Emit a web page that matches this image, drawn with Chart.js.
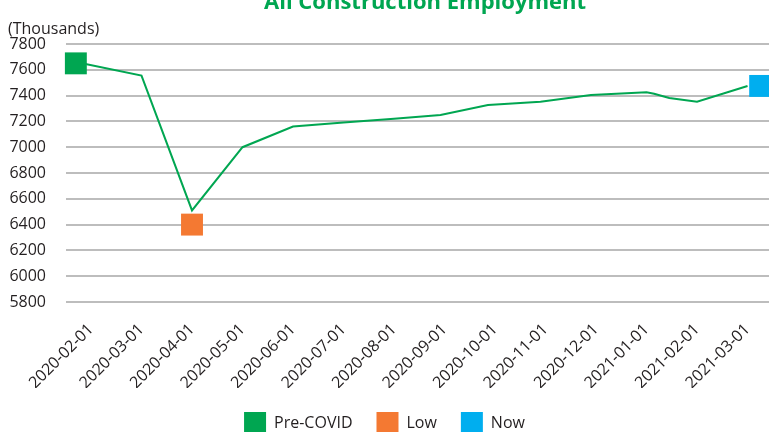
<!DOCTYPE html>
<html>
<head>
<meta charset="utf-8">
<script src="https://cdn.jsdelivr.net/npm/chart.js@4.4.1/dist/chart.umd.min.js"></script>
<style>
  html, body { margin: 0; padding: 0; background: #ffffff; }
  #wrap { position: relative; width: 769px; height: 432px; }
</style>
</head>
<body>
<div id="wrap"><canvas id="c"></canvas></div>
<script>
// ---- Data ----
const tickLabels = ['2020-02-01','2020-03-01','2020-04-01','2020-05-01','2020-06-01','2020-07-01',
  '2020-08-01','2020-09-01','2020-10-01','2020-11-01','2020-12-01','2021-01-01','2021-02-01','2021-03-01'];
// x positions are in month-index units (0 = 2020-02-01)
const lineX = [-0.3, 1, 2, 3, 4, 5, 6, 6.92, 7.86, 8.9, 9.9, 11, 11.15, 11.45, 12, 13];
const employment = [7660, 7555, 6510, 7000, 7160, 7192, 7220, 7250, 7327, 7352, 7405, 7425, 7415, 7382, 7352, 7474];
const markerNames = ['Pre-COVID', 'Low', 'Now'];
const markerX = [-0.3, 2, 13.25];
const markerY = [7650, 6400, 7475];
const yTicks = [5800, 6000, 6200, 6400, 6600, 6800, 7000, 7200, 7400, 7600, 7800];
const chartTitle = 'All Construction Employment';
const unitLabel = '(Thousands)';

// ---- Styles ----
const GREEN = '#00a651';
const markerColors = ['#00a651', '#f47932', '#00aeef'];
const TEXT = '#231f20';

Chart.defaults.font.family = "'Open Sans', sans-serif";
Chart.defaults.font.size = 16;
Chart.defaults.color = TEXT;

const datasets = [{
  type: 'line',
  label: 'Employment',
  data: lineX.map((x, i) => ({ x: x, y: employment[i] })),
  borderColor: GREEN,
  borderWidth: 2,
  pointRadius: 0,
  tension: 0,
  fill: false,
  order: 10
}];
markerNames.forEach((name, i) => {
  datasets.push({
    type: 'scatter',
    label: name,
    data: [{ x: markerX[i], y: markerY[i] }],
    backgroundColor: markerColors[i],
    borderColor: markerColors[i],
    borderWidth: 0,
    pointStyle: 'rect',
    pointRadius: 15.5,
    pointHoverRadius: 15.5,
    clip: false,
    order: 0
  });
});

const textPlugin = {
  id: 'texts',
  afterDraw(chart) {
    const ctx = chart.ctx;
    ctx.save();
    ctx.fillStyle = GREEN;
    ctx.font = "bold 22px 'Open Sans', sans-serif";
    ctx.textAlign = 'center';
    ctx.textBaseline = 'alphabetic';
    ctx.fillText(chartTitle, 425, 8.5);
    ctx.fillStyle = TEXT;
    ctx.font = "16px 'Open Sans', sans-serif";
    ctx.textAlign = 'left';
    ctx.fillText(unitLabel, 8, 34);
    ctx.restore();
  }
};

new Chart(document.getElementById('c'), {
  data: { datasets: datasets },
  options: {
    responsive: true,
    maintainAspectRatio: false,
    animation: false,
    layout: { autoPadding: false, padding: { top: 44, left: 0, right: 0, bottom: -12 } },
    plugins: {
      title: { display: false },
      tooltip: { enabled: false },
      legend: {
        position: 'bottom',
        labels: {
          boxWidth: 22,
          boxHeight: 22,
          padding: 24,
          color: TEXT,
          font: { size: 16 },
          filter: (item) => item.datasetIndex > 0
        }
      }
    },
    scales: {
      x: {
        type: 'linear',
        min: -0.495,
        max: 13.425,
        grid: { display: false, drawTicks: false },
        border: { display: false },
        afterBuildTicks: (scale) => { scale.ticks = tickLabels.map((_, i) => ({ value: i })); },
        afterFit: (scale) => { scale.height = 86; scale.paddingRight = 0; scale.paddingLeft = 0; },
        ticks: {
          autoSkip: false,
          minRotation: 45,
          maxRotation: 45,
          padding: 18,
          color: TEXT,
          callback: (value) => tickLabels[value]
        }
      },
      y: {
        type: 'linear',
        min: 5800,
        max: 7800,
        afterBuildTicks: (scale) => { scale.ticks = yTicks.map(v => ({ value: v })); },
        afterFit: (scale) => { scale.width = 66; },
        grid: { color: '#bdbdbd', lineWidth: 2, drawTicks: false },
        border: { display: false },
        ticks: { padding: 20, color: TEXT, callback: (value) => String(value) }
      }
    }
  },
  plugins: [textPlugin]
});
</script>
</body>
</html>
